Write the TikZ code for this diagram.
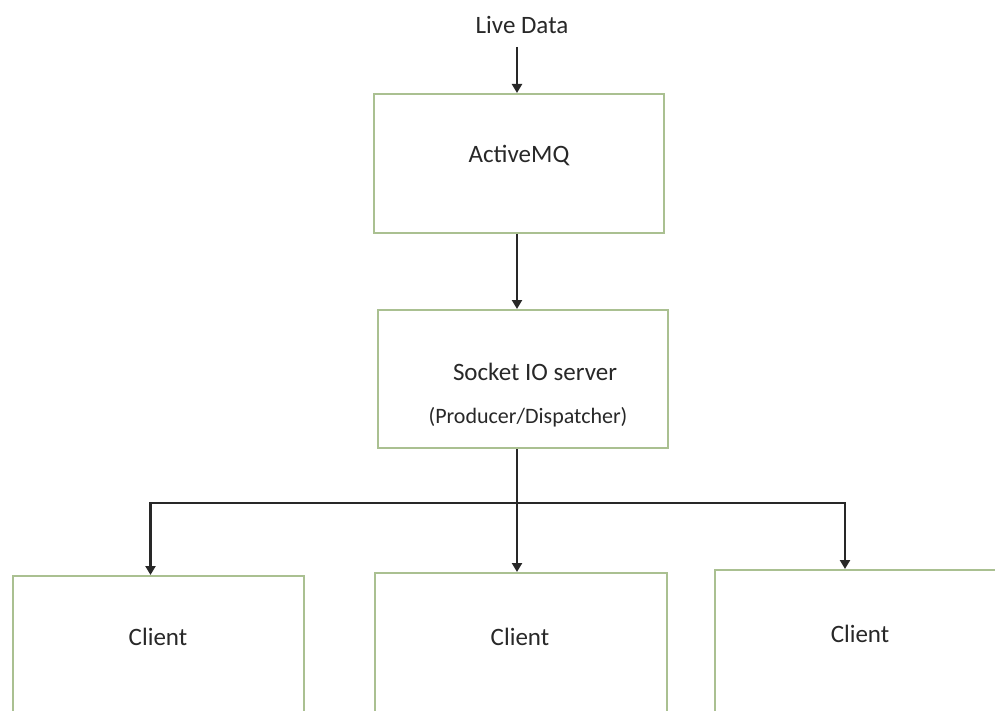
\documentclass[tikz,border=0pt]{standalone}
\usepackage{fontspec}
\setmainfont{Carlito}
\usetikzlibrary{arrows.meta}
\definecolor{boxline}{RGB}{170,192,145}
\definecolor{ink}{RGB}{40,40,40}
\begin{document}
\begin{tikzpicture}[x=1pt,y=-1pt,
  box/.style={draw=boxline,line width=2pt,fill=white,inner sep=0pt,anchor=north west},
  lbl/.style={font=\fontsize{25}{30}\selectfont,text=ink,inner sep=0pt},
  small/.style={font=\fontsize{22}{26}\selectfont,text=ink,inner sep=0pt},
  arr/.style={-{Triangle[length=9pt,width=10pt]},line width=2.5pt,draw=ink}]
\useasboundingbox (0,0) rectangle (995,711);
\fill[white] (0,0) rectangle (995,711);
% boxes
\node[box,minimum width=290pt,minimum height=139pt] (amq) at (373,93) {};
\node[box,minimum width=290pt,minimum height=138pt] (sock) at (377,309) {};
\node[box,minimum width=291pt,minimum height=160pt] (c1) at (12,575) {};
\node[box,minimum width=292pt,minimum height=160pt] (c2) at (374,572) {};
\node[box,minimum width=300pt,minimum height=160pt] (c3) at (714,569) {};
% labels
\node[lbl] (live) at (522,25) {Live Data};
\node[lbl] (amqt) at (519,156) {ActiveMQ};
\node[lbl] (sockt) at (535,372) {Socket IO server};
\node[small] (prod) at (528,417) {(Producer/Dispatcher)};
\node[lbl] (c1t) at (158,637) {Client};
\node[lbl] (c2t) at (520,637) {Client};
\node[lbl] (c3t) at (860,634) {Client};
% connectors
\coordinate (livebot) at (517,47);
\coordinate (j) at (517,503);
\draw[arr] (livebot) -- (livebot |- amq.north);
\draw[arr] (j |- amq.south) -- (j |- sock.north);
\draw[line width=2.5pt,draw=ink] (j |- sock.south) -- (j);
\draw[arr] (j) -| ([xshift=-8pt]c1.north);
\draw[arr] (j) -- (j |- c2.north);
\draw[arr] (j) -| ([xshift=131pt]c3.north west);
\end{tikzpicture}
\end{document}
